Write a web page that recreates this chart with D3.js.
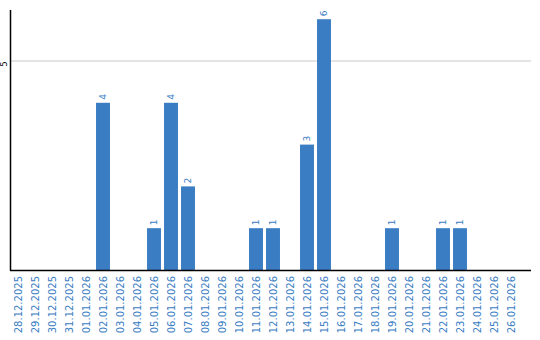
<!DOCTYPE html>
<html><head><meta charset="utf-8">
<script src="https://cdn.jsdelivr.net/npm/d3@7"></script>
<style>body{margin:0;background:#fff}svg{display:block}</style>
</head><body>
<script>
const categories = ["28.12.2025","29.12.2025","30.12.2025","31.12.2025","01.01.2026","02.01.2026","03.01.2026","04.01.2026","05.01.2026","06.01.2026","07.01.2026","08.01.2026","09.01.2026","10.01.2026","11.01.2026","12.01.2026","13.01.2026","14.01.2026","15.01.2026","16.01.2026","17.01.2026","18.01.2026","19.01.2026","20.01.2026","21.01.2026","22.01.2026","23.01.2026","24.01.2026","25.01.2026","26.01.2026"];
const values = [0,0,0,0,0,4,0,0,1,4,2,0,0,0,1,1,0,3,6,0,0,0,1,0,0,1,1,0,0,0];
const yTicks = [5];

const W=540,H=340;
const svg=d3.select("body").append("svg").attr("width",W).attr("height",H);
const x=d3.scaleBand().domain(categories).range([9.5,519.5]).paddingInner(0.18).paddingOuter(0.09);
const y=d3.scaleLinear().domain([0,6.22]).range([270,10]);
const blue="#3a7dc3";

// gridlines
svg.append("g").selectAll("line").data(yTicks).join("line")
 .attr("x1",11).attr("x2",531).attr("y1",d=>y(d)).attr("y2",d=>y(d))
 .attr("stroke","#c8c8c8").attr("stroke-width",1);
// y tick labels
svg.append("g").selectAll("text").data(yTicks).join("text")
 .attr("transform",d=>`translate(6.5,${y(d)+3}) rotate(-90)`)
 .attr("text-anchor","middle").attr("font-family","DejaVu Sans").attr("font-size",8).attr("fill","#000")
 .text(d=>d);

// bars
const data=categories.map((c,i)=>({c,v:values[i]}));
svg.append("g").selectAll("rect").data(data.filter(d=>d.v>0)).join("rect")
 .attr("x",d=>x(d.c)).attr("width",x.bandwidth())
 .attr("y",d=>y(d.v)).attr("height",d=>y(0)-y(d.v)).attr("fill",blue);
// value labels
svg.append("g").selectAll("text").data(data.filter(d=>d.v>0)).join("text")
 .attr("transform",d=>`translate(${x(d.c)+x.bandwidth()/2},${y(d.v)-3}) rotate(-90)`)
 .attr("text-anchor","start").attr("dy","0.35em").attr("font-family","DejaVu Sans").attr("font-size",9).attr("fill",blue)
 .text(d=>d.v);

// axes lines
svg.append("line").attr("x1",10.5).attr("x2",10.5).attr("y1",10).attr("y2",270.5).attr("stroke","#000").attr("stroke-width",1.5);
svg.append("line").attr("x1",10).attr("x2",531).attr("y1",270.5).attr("y2",270.5).attr("stroke","#000").attr("stroke-width",1.5);

// x labels
svg.append("g").selectAll("text").data(categories).join("text")
 .attr("transform",d=>`translate(${x(d)+x.bandwidth()/2},276) rotate(-90)`)
 .attr("text-anchor","end").attr("dy","0.35em").attr("font-family","DejaVu Sans").attr("font-size",10).attr("fill",blue)
 .text(d=>d);
</script>
</body></html>
